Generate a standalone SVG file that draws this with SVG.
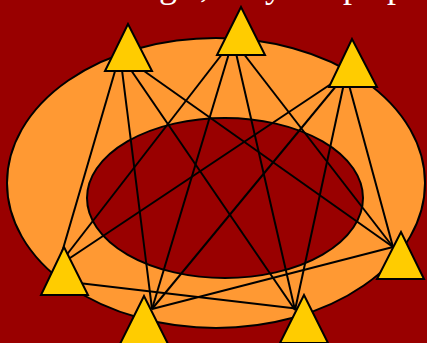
<svg xmlns="http://www.w3.org/2000/svg" width="427" height="343" viewBox="0 0 427 343">
<style>
.tri{fill:#FFCC00;stroke:#000;stroke-width:2;stroke-linejoin:miter}
.ell{stroke:#000;stroke-width:2}
#connectors line{stroke:#000;stroke-width:2}
.title{font-family:"Liberation Serif","Times New Roman",serif;font-size:36px;fill:#fff}
</style>
<rect x="0" y="0" width="427" height="343" fill="#990000"/>
<text class="title" y="-3.5"><tspan x="159">g</tspan><tspan x="200">,</tspan><tspan x="265">y</tspan><tspan x="343">p</tspan><tspan x="387">p</tspan></text>
<g id="outer-ring">
<ellipse class="ell" cx="216" cy="183" rx="209" ry="145" fill="#FF9933"/>
<ellipse class="ell" cx="225" cy="198" rx="138" ry="80" fill="#990000"/>
</g>
<g id="connectors">
<line x1="120" y1="54" x2="58" y2="266"/>
<line x1="120" y1="54" x2="152" y2="309"/>
<line x1="120" y1="54" x2="295" y2="310"/>
<line x1="120" y1="54" x2="393" y2="247"/>
<line x1="233" y1="40" x2="58" y2="266"/>
<line x1="233" y1="40" x2="152" y2="309"/>
<line x1="233" y1="40" x2="295" y2="310"/>
<line x1="233" y1="40" x2="393" y2="247"/>
<line x1="346" y1="74" x2="58" y2="266"/>
<line x1="346" y1="74" x2="152" y2="309"/>
<line x1="346" y1="74" x2="295" y2="310"/>
<line x1="346" y1="74" x2="393" y2="247"/>
<line x1="70" y1="282" x2="300" y2="309"/>
<line x1="152" y1="309" x2="393" y2="247"/>
</g>
<g id="node1"><polygon class="tri" points="128,24 105,71 152,71"/></g>
<g id="node2"><polygon class="tri" points="241,7 217,55 265,55"/></g>
<g id="node3"><polygon class="tri" points="352,39 329,87 377,87"/></g>
<g id="node4"><polygon class="tri" points="64,247 41,295 88,295"/></g>
<g id="node5"><polygon class="tri" points="144,296 120,344 168,344"/></g>
<g id="node6"><polygon class="tri" points="304,295 280,343 328,343"/></g>
<g id="node7"><polygon class="tri" points="401,232 377,279 424,279"/></g>
</svg>
